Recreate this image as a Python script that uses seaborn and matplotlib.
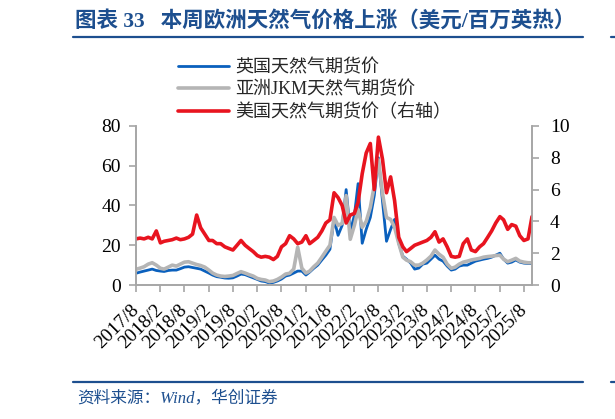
import pandas as pd
import seaborn as sns
import matplotlib.pyplot as plt
from matplotlib.lines import Line2D

# monthly values, Aug 2017 - Oct 2025
uk = [5.9, 6.5, 7.0, 7.5, 8.0, 7.3, 7.0, 6.8, 7.3, 7.5, 7.5, 8.2,
      9.0, 9.2, 8.8, 8.4, 8.0, 7.0, 6.0, 5.0, 4.2, 3.9, 3.5, 3.4,
      3.6, 4.5, 5.5, 5.2, 4.4, 3.6, 2.8, 2.0, 1.7, 1.0, 1.3, 2.0,
      3.0, 4.5, 5.0, 6.0, 7.0, 7.0, 5.0, 6.5, 8.4, 10, 12.6, 15,
      18, 33, 25, 30, 48, 27, 35, 51, 21, 28, 34, 45,
      64, 42, 22, 28, 33, 21, 14.5, 13, 11, 8, 8.5, 10.5,
      11, 13, 15, 13, 12, 9.5, 7.5, 8, 9.5, 10, 10, 11,
      12, 12.5, 13, 13.4, 14, 15, 16, 13, 11, 11.5, 12.6, 11.5,
      11, 10.8, 10.8]
jkm = [7.9, 8.5, 9.2, 10.5, 11.2, 10, 8.4, 8.0, 9, 10, 9.5, 10.5,
       11.5, 11.7, 11, 10.3, 9.8, 9, 7.5, 6.0, 5.0, 4.5, 4.3, 4.5,
       4.8, 5.8, 6.7, 6.0, 5.2, 4.5, 3.3, 2.8, 2.5, 1.7, 2.0, 2.8,
       4.0, 5.5, 5.9, 8.0, 19, 8.5, 6.0, 7.0, 9.2, 11, 14, 17,
       20, 34, 30, 31, 45, 23, 30, 38, 29, 32, 39, 50,
       63, 46, 34, 33, 29, 21, 14, 12.5, 11.7, 10, 10, 11,
       12.6, 14.5, 17.6, 15.5, 14, 10.5, 8.4, 9.0, 10.5, 11.5, 12, 12.6,
       13, 13.4, 14, 14.3, 14.5, 14.8, 15, 13, 11.7, 12.5, 13.4, 12.0,
       11.5, 11.2, 11.2]
hh = [2.9, 2.95, 2.9, 3.0, 2.9, 3.4, 2.65, 2.75, 2.8, 2.85, 2.95, 2.85,
      2.9, 3.0, 3.2, 4.4, 3.6, 3.2, 2.8, 2.8, 2.6, 2.6, 2.4, 2.3,
      2.2, 2.5, 2.8, 2.5, 2.3, 2.1, 1.85, 1.75, 1.8, 1.75, 1.6, 1.8,
      2.4, 2.6, 3.1, 2.9, 2.6, 2.7, 3.1, 2.6, 2.8, 3.0, 3.4, 3.9,
      4.1, 5.8, 5.5, 5.0, 3.9, 4.4, 4.5, 5.2, 7.0, 8.3, 8.9, 6.0,
      9.3, 7.9, 5.8, 6.8, 5.3, 3.0, 2.4, 2.1, 2.3, 2.5, 2.6, 2.7,
      2.8, 3.0, 3.35, 2.7, 2.9, 2.4, 1.8, 1.75, 1.8, 2.6, 2.9, 2.2,
      2.1, 2.4, 2.6, 3.0, 3.4, 3.9, 4.3, 4.1, 3.5, 3.8, 3.7, 3.1,
      2.8, 2.9, 4.3]
labels = ["英国天然气期货价", "亚洲JKM天然气期货价", "美国天然气期货价（右轴）"]
dates = pd.date_range("2017-08-01", periods=len(uk), freq="MS")
tick_dates = pd.date_range("2017-08-01", "2025-08-01", freq="6MS")

BLUE, GRAY, RED = "#0a60bd", "#b5b5b5", "#e8141f"
NAVY = "#1d4f8f"
SPINE = "#a6a6a6"

sns.set_style("ticks")
plt.rcParams["font.family"] = ["Liberation Serif", "Noto Sans CJK SC"]

W, H = 615, 419
fig = plt.figure(figsize=(W / 100, H / 100), dpi=100)
ax = fig.add_axes([136 / W, 1 - 285 / H, 396 / W, 159 / H])
ax2 = ax.twinx()

sns.lineplot(x=dates, y=uk, ax=ax, color=BLUE, lw=2.0, label=labels[0], legend=False)
sns.lineplot(x=dates, y=jkm, ax=ax, color=GRAY, lw=2.6, label=labels[1], legend=False)
sns.lineplot(x=dates, y=hh, ax=ax2, color=RED, lw=2.6, label=labels[2], legend=False)

ax.set_xlim(dates[0], dates[-1])
ax.set_ylim(0, 80)
ax2.set_ylim(0, 10)
ax.set_yticks(range(0, 81, 20))
ax2.set_yticks(range(0, 11, 2))
ax.set_xticks(tick_dates)
ax.set_xticklabels([f"{d.year}/{d.month}" for d in tick_dates], rotation=45,
                   ha="right", va="center", rotation_mode="anchor")
for a in (ax, ax2):
    a.set_xlabel("")
    a.set_ylabel("")
    a.spines["top"].set_visible(False)
    for s in ("left", "right", "bottom"):
        a.spines[s].set_color(SPINE)
        a.spines[s].set_linewidth(1.2)
    a.tick_params(colors=SPINE, labelcolor="black", labelsize=14, length=5, width=1.2)
ax.tick_params(axis="x", pad=11)
ax.tick_params(axis="y", pad=6)
ax2.tick_params(axis="y", pad=8)

h1, l1 = ax.get_legend_handles_labels()
h2, l2 = ax2.get_legend_handles_labels()
fig.legend(h1 + h2, l1 + l2, loc="upper left", bbox_to_anchor=(178 / W, 1 - 59 / H),
           frameon=False, fontsize=13, handlelength=2.8, handletextpad=0.35,
           labelspacing=0.28, borderpad=0, borderaxespad=0)

fig.text(75 / W, 1 - 21 / H, "图表 33   本周欧洲天然气价格上涨（美元/百万英热）",
         fontsize=15.5, fontweight="bold", color=NAVY, va="center")
fig.add_artist(Line2D([73 / W, 583 / W], [1 - 37 / H] * 2, color=NAVY, lw=1.6))
fig.add_artist(Line2D([611 / W, 1], [1 - 37 / H] * 2, color=NAVY, lw=1.6))
fig.add_artist(Line2D([73 / W, 583 / W], [1 - 382 / H] * 2, color=NAVY, lw=1.6))
fig.add_artist(Line2D([611 / W, 1], [1 - 382 / H] * 2, color=NAVY, lw=1.6))
fig.text(77 / W, 1 - 398 / H, "资料来源：Wind，华创证券", fontsize=12,
         style="italic", color=NAVY, va="center")

fig.savefig("out.png", dpi=100)
